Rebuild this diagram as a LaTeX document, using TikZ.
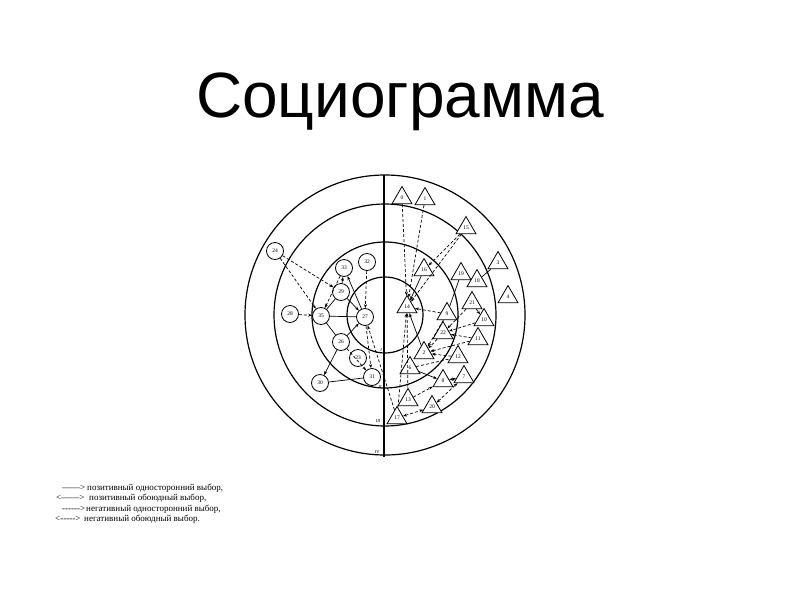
\documentclass[tikz,border=0pt]{standalone}
\usepackage{fontspec}
\setmainfont{Liberation Serif}
\newfontfamily\titlefont{Liberation Sans}
\usetikzlibrary{arrows.meta,shapes.geometric}
\begin{document}
\begin{tikzpicture}[x=1pt,y=-1pt,
  ring/.style={line width=1.2pt},
  pn/.style={circle,draw,fill=white,line width=0.8pt,minimum size=17pt,inner sep=0pt,font=\fontsize{5.5}{5.5}\selectfont},
  tn/.style={regular polygon,regular polygon sides=3,draw,fill=white,line width=0.8pt,minimum size=23pt,inner sep=0pt,font=\fontsize{5.5}{5.5}\selectfont},
  tip/.tip={Stealth[length=4pt,width=3pt]},
  posline/.style={line width=0.7pt},
  posarr/.style={posline,-tip},
  negline/.style={line width=0.7pt,dash pattern=on 3pt off 2pt},
  negarr/.style={negline,-tip},
  negboth/.style={negline,tip-tip},
  lvl/.style={font=\fontsize{4.5}{4.5}\selectfont\itshape,inner sep=0pt},
  leg/.style={anchor=base west,inner sep=0pt,font=\fontsize{9}{9}\selectfont}
]
\useasboundingbox (0,0) rectangle (800,600);
\node[anchor=base,inner sep=0pt,font=\titlefont\fontsize{64}{64}\selectfont] (title) at (400,117) {Социограмма};

% rings
\draw[ring] (385,315) circle[radius=38];
\draw[ring] (385,315) circle[radius=73];
\draw[ring] (385,315) circle[radius=111];
\draw[ring] (385,315) circle[radius=140];
\coordinate (vt) at (384,175);
\coordinate (vb) at (384,457);
\draw[ring] (vt) -- (vb);
\node[lvl] (L1) at (381,350) {I};
\node[lvl] (L2) at (380,387) {II};
\node[lvl] (L3) at (378,421) {III};
\node[lvl] (L4) at (377,452) {IV};

% circle nodes
\node[pn] (n24) at (275,251) {24};
\node[pn] (n33) at (344,268) {33};
\node[pn] (n32) at (367,262) {32};
\node[pn] (n29) at (341,292) {29};
\node[pn] (n28) at (290,314) {28};
\node[pn] (n35) at (321,316) {35};
\node[pn] (n27) at (365,317) {27};
\node[pn] (n26) at (341,342) {26};
\node[pn] (n23) at (358,358) {23};
\node[pn] (n31) at (372,377) {31};
\node[pn] (n30) at (320,383) {30};

% triangle nodes
\node[tn] (t0) at (402,198) {0};
\node[tn] (t1) at (425,199) {1};
\node[tn] (t15) at (466,228) {15};
\node[tn] (t16) at (424,270) {16};
\node[tn] (t19) at (461,274) {19};
\node[tn] (t3) at (498,263) {3};
\node[tn] (t18) at (477,281) {18};
\node[tn] (t4) at (508,297) {4};
\node[tn] (t14) at (407,307) {14};
\node[tn] (t21) at (472,303) {21};
\node[tn] (t9) at (447,314) {9};
\node[tn] (t10) at (484,320) {10};
\node[tn] (t22) at (443,333) {22};
\node[tn] (t11) at (478,339) {11};
\node[tn] (t2) at (424,353) {2};
\node[tn] (t12) at (458,357) {12};
\node[tn] (t6) at (410,368) {6};
\node[tn] (t8) at (443,381) {8};
\node[tn] (t7) at (464,377) {7};
\node[tn] (t13) at (408,400) {13};
\node[tn] (t20) at (432,407) {20};
\node[tn] (t17) at (397,418) {17};

% left connectors
\draw[negarr] (n24) -- (n29);
\draw[negarr] (n24) -- (n35);
\draw[negarr] (n28) -- (n35);
\draw[posarr] (n29) -- (n33);
\draw[negarr] (n33) -- (n35);
\draw[posline] (n29) -- (n35);
\draw[posline] (n35) -- (n27);
\draw[posarr] (n27) -- (n33);
\draw[posarr] (n29) -- (n27);
\draw[negarr] (n32) -- (n27);
\draw[posline] (n35) -- (n26);
\draw[posarr] (n26) -- (n27);
\draw[posarr] (n26) -- (n30);
\draw[negarr] (n26) -- (n31);
\draw[posline] (n30) -- (n31);
\draw[negarr] (n27) -- (n31);
\draw[negarr] (t17) -- (n27);

% right connectors
\draw[negarr] (t0) -- (t14);
\draw[negarr] (t1) -- (t14);
\draw[negarr] (t15) -- (t16);
\draw[negarr] (t15) -- (t14);
\draw[posarr] (t16) -- (t14);
\draw[posline] (t19) -- (t9);
\draw[posline] (t3) -- (t18);
\draw[negarr] (t9) -- (t14);
\draw[posarr] (t2) -- (t14);
\draw[negarr] (t9) -- (t2);
\draw[negarr] (t21) -- (t10);
\draw[negarr] (t21) -- (t22);
\draw[negarr] (t10) -- (t22);
\draw[negarr] (t11) -- (t22);
\draw[negarr] (t11) -- (t2);
\draw[negarr] (t22) -- (t2);
\draw[negarr] (t12) -- (t2);
\draw[posarr] (t6) -- (t8);
\draw[negline] (t6) -- (t12);
\draw[negboth] (t8) -- (t7);
\draw[negarr] (t13) -- (t8);
\draw[negboth] (t20) -- (t7);
\draw[negboth] (t17) -- (t20);
\draw[negarr] (t13) -- (t14);
\draw[negarr] (t17) -- (t14);

% legend
\node[leg] (a1) at (62,490) {——>};
\node[leg] (b1) at (87,490) {позитивный односторонний выбор,};
\node[leg] (a2) at (56,500) {<——>};
\node[leg] (b2) at (89,500) {позитивный обоюдный выбор,};
\node[leg] (a3) at (62,511) {-{}-{}-{}-{}-{}->};
\node[leg] (b3) at (86,511) {негативный односторонний выбор,};
\node[leg] (a4) at (55,521) {<-{}-{}-{}-{}->};
\node[leg] (b4) at (84,521) {негативный обоюдный выбор.};
\end{tikzpicture}
\end{document}
